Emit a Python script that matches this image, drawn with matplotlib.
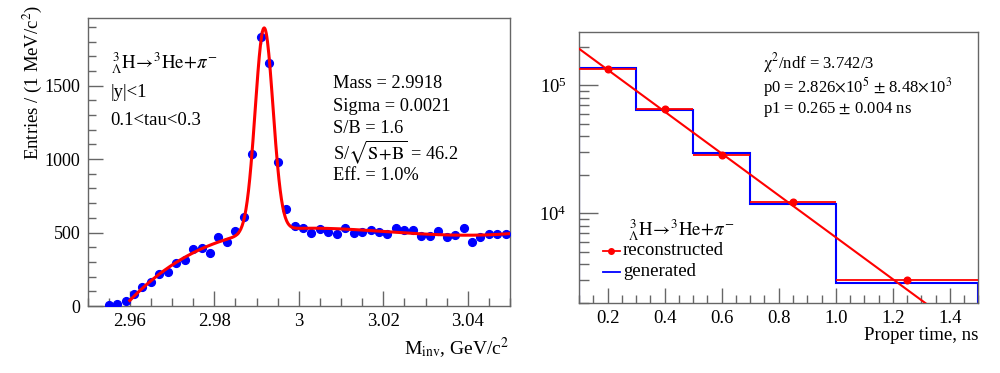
import numpy as np
import matplotlib
matplotlib.use("Agg")
import matplotlib.pyplot as plt
from matplotlib.ticker import MultipleLocator, LogLocator, NullFormatter

plt.rcParams['font.family'] = ['Liberation Serif', 'DejaVu Serif']
plt.rcParams['mathtext.fontset'] = 'stix'

# ---------------- data: invariant mass (left) ----------------
mass_centers = np.round(np.arange(2.955, 3.0495, 0.002), 4)
mass_counts = [7, 16, 36, 82, 131, 161, 220, 231, 293, 313, 386, 397, 358, 467,
               435, 508, 608, 1032, 1828, 1651, 978, 662,
               546, 528, 499, 522, 502, 492, 528, 499, 503, 517, 506, 492, 533,
               517, 517, 478, 478, 510, 467, 483, 528, 435, 472, 492, 488, 492]
peak_mean = 2.9918
peak_sigma = 0.0021
fit_range = (2.96, 3.05)
stats_lines = ["Mass = 2.9918", "Sigma = 0.0021", "S/B = 1.6",
               r"S/$\sqrt{\mathrm{S\!+\!B}}$ = 46.2", "Eff. = 1.0%"]
cut_lines = [r"$^{\,3}_{\Lambda}\mathrm{H}\!\rightarrow\!{}^{3}\mathrm{He}\!+\!\pi^{-}$",
             "|y|<1", "0.1<tau<0.3"]

# ---------------- data: proper time (right) ----------------
time_edges = [0.1, 0.3, 0.5, 0.7, 1.0, 1.5]
reco_counts = [1.35e5, 6.6e4, 2.87e4, 1.23e4, 3000]
gen_counts = [1.37e5, 6.46e4, 2.97e4, 1.18e4, 2860]
fit_p0 = 2.826e5
fit_p1 = 0.265
fit_lines = [r"$\mathrm{\chi}^{2}$/ndf = 3.742/3",
             r"p0 = 2.826$\times$10$^{5}$ $\pm$ 8.48$\times$10$^{3}$",
             r"p1 = 0.265 $\pm$ 0.004 ns"]

frame_col = '#666666'

fig = plt.figure(figsize=(10, 3.73), dpi=100)

# ================= left panel =================
axL = fig.add_axes([0.0875, 0.1796, 0.4225, 0.7721])
x = np.array(mass_centers)
y = np.array(mass_counts, dtype=float)
axL.errorbar(x, y, yerr=np.sqrt(y), xerr=0.0006, fmt='o', color='#0000ff',
             ms=5.6, elinewidth=1.0, capsize=0, zorder=3)

# fit: gaussian (fixed mean/sigma) + polynomial background, linear least squares
sel = (x >= fit_range[0]) & (x <= fit_range[1])
def basis(m):
    u = (m - 3.0) / 0.05
    g = np.exp(-0.5 * ((m - peak_mean) / peak_sigma) ** 2)
    return np.vstack([np.ones_like(u), u, u**2, u**3, u**4, g]).T
coef, *_ = np.linalg.lstsq(basis(x[sel]), y[sel], rcond=None)
mm = np.linspace(fit_range[0], fit_range[1], 600)
axL.plot(mm, basis(mm) @ coef, color='#ff0000', lw=2.2, zorder=4)

axL.set_xlim(2.95, 3.05)
axL.set_ylim(0, 1960)
axL.xaxis.set_minor_locator(MultipleLocator(0.005))
axL.yaxis.set_major_locator(MultipleLocator(500))
axL.yaxis.set_minor_locator(MultipleLocator(100))
axL.set_xticks([2.96, 2.98, 3.0, 3.02, 3.04])
axL.set_xticklabels(["2.96", "2.98", "3", "3.02", "3.04"])
axL.set_xlabel(r"M$_{\mathrm{inv}}$, GeV/c$^{2}$", fontsize=14, loc='right')
axL.xaxis.set_label_coords(1.0, -0.1)
axL.set_ylabel(r"Entries / (1 MeV/c$^{2}$)", fontsize=13.5, loc='top')
axL.yaxis.set_label_coords(-0.102, 1.045)

for i, t in enumerate(cut_lines):
    axL.text(0.055, (306 - [63, 92, 120][i]) / 288, t, transform=axL.transAxes,
             fontsize=13.5 if i else 13.5, va='center', ha='left')
for i, t in enumerate(stats_lines):
    axL.text((333 - 87.5) / 422.5, (306 - [83, 106.5, 128.5, 152, 175][i]) / 288, t,
             transform=axL.transAxes, fontsize=13.2, va='center', ha='left')

# ================= right panel =================
axR = fig.add_axes([0.579, 0.1877, 0.3995, 0.7278])
edges = np.array(time_edges)
centers = 0.5 * (edges[:-1] + edges[1:])
halfw = 0.5 * np.diff(edges)
gen = np.array(gen_counts)
reco = np.array(reco_counts)
axR.stairs(gen, edges, color='#0000ff', lw=1.5, zorder=2)
axR.errorbar(centers, reco, xerr=halfw, fmt='o', color='#ff0000', ms=4.8,
             elinewidth=1.3, capsize=0, zorder=3)
tt = np.linspace(edges[0], edges[-1], 400)
axR.plot(tt, fit_p0 * np.exp(-tt / fit_p1), color='#ff0000', lw=1.5, zorder=4)

axR.set_yscale('log')
axR.set_xlim(0.1, 1.5)
axR.set_ylim(1990, 2.64e5)
axR.xaxis.set_major_locator(MultipleLocator(0.2))
axR.xaxis.set_minor_locator(MultipleLocator(0.05))
axR.yaxis.set_major_locator(LogLocator(base=10))
axR.yaxis.set_minor_locator(LogLocator(base=10, subs=np.arange(2, 10)))
axR.yaxis.set_minor_formatter(NullFormatter())
axR.set_xlabel("Proper time, ns", fontsize=13.5, loc='right')
axR.xaxis.set_label_coords(1.0, -0.088)

for i, t in enumerate(fit_lines):
    axR.text((763 - 579) / 399.5, (303 - [63, 86.5, 109][i]) / 271.5, t,
             transform=axR.transAxes, fontsize=12, va='center', ha='left')

# legend (manual, ROOT style)
axR.text((628 - 579) / 399.5, (303 - 230) / 271.5, cut_lines[0], transform=axR.transAxes,
         fontsize=13.5, va='center', ha='left')
lx0, lx1 = (602.5 - 579) / 399.5, (620 - 579) / 399.5
ly1, ly2 = (303 - 251) / 271.5, (303 - 272) / 271.5
axR.plot([lx0, lx1], [ly1, ly1], transform=axR.transAxes, color='#ff0000', lw=1.3)
axR.plot([(lx0 + lx1) / 2], [ly1], 'o', transform=axR.transAxes, color='#ff0000', ms=4)
axR.plot([lx0, lx1], [ly2, ly2], transform=axR.transAxes, color='#0000ff', lw=1.3)
axR.text((623 - 579) / 399.5, ly1, "reconstructed", transform=axR.transAxes,
         fontsize=13.5, va='center', ha='left')
axR.text((623 - 579) / 399.5, ly2, "generated", transform=axR.transAxes,
         fontsize=13.5, va='center', ha='left')

for ax in (axL, axR):
    for s in ax.spines.values():
        s.set_color(frame_col)
        s.set_linewidth(1.0)
    ax.tick_params(which='both', direction='in', top=False, right=False,
                   colors=frame_col, labelcolor='black', labelsize=13.5)
    ax.tick_params(which='major', length=11, width=1.0)
    ax.tick_params(which='minor', length=5.5, width=1.0)
    ax.tick_params(axis='x', pad=5)
    ax.tick_params(axis='y', pad=5)
axL.tick_params(axis='y', labelsize=13)
axR.tick_params(axis='y', which='major', length=14, pad=9)
axR.tick_params(axis='y', which='minor', length=7)

fig.savefig("out.png", dpi=100)
